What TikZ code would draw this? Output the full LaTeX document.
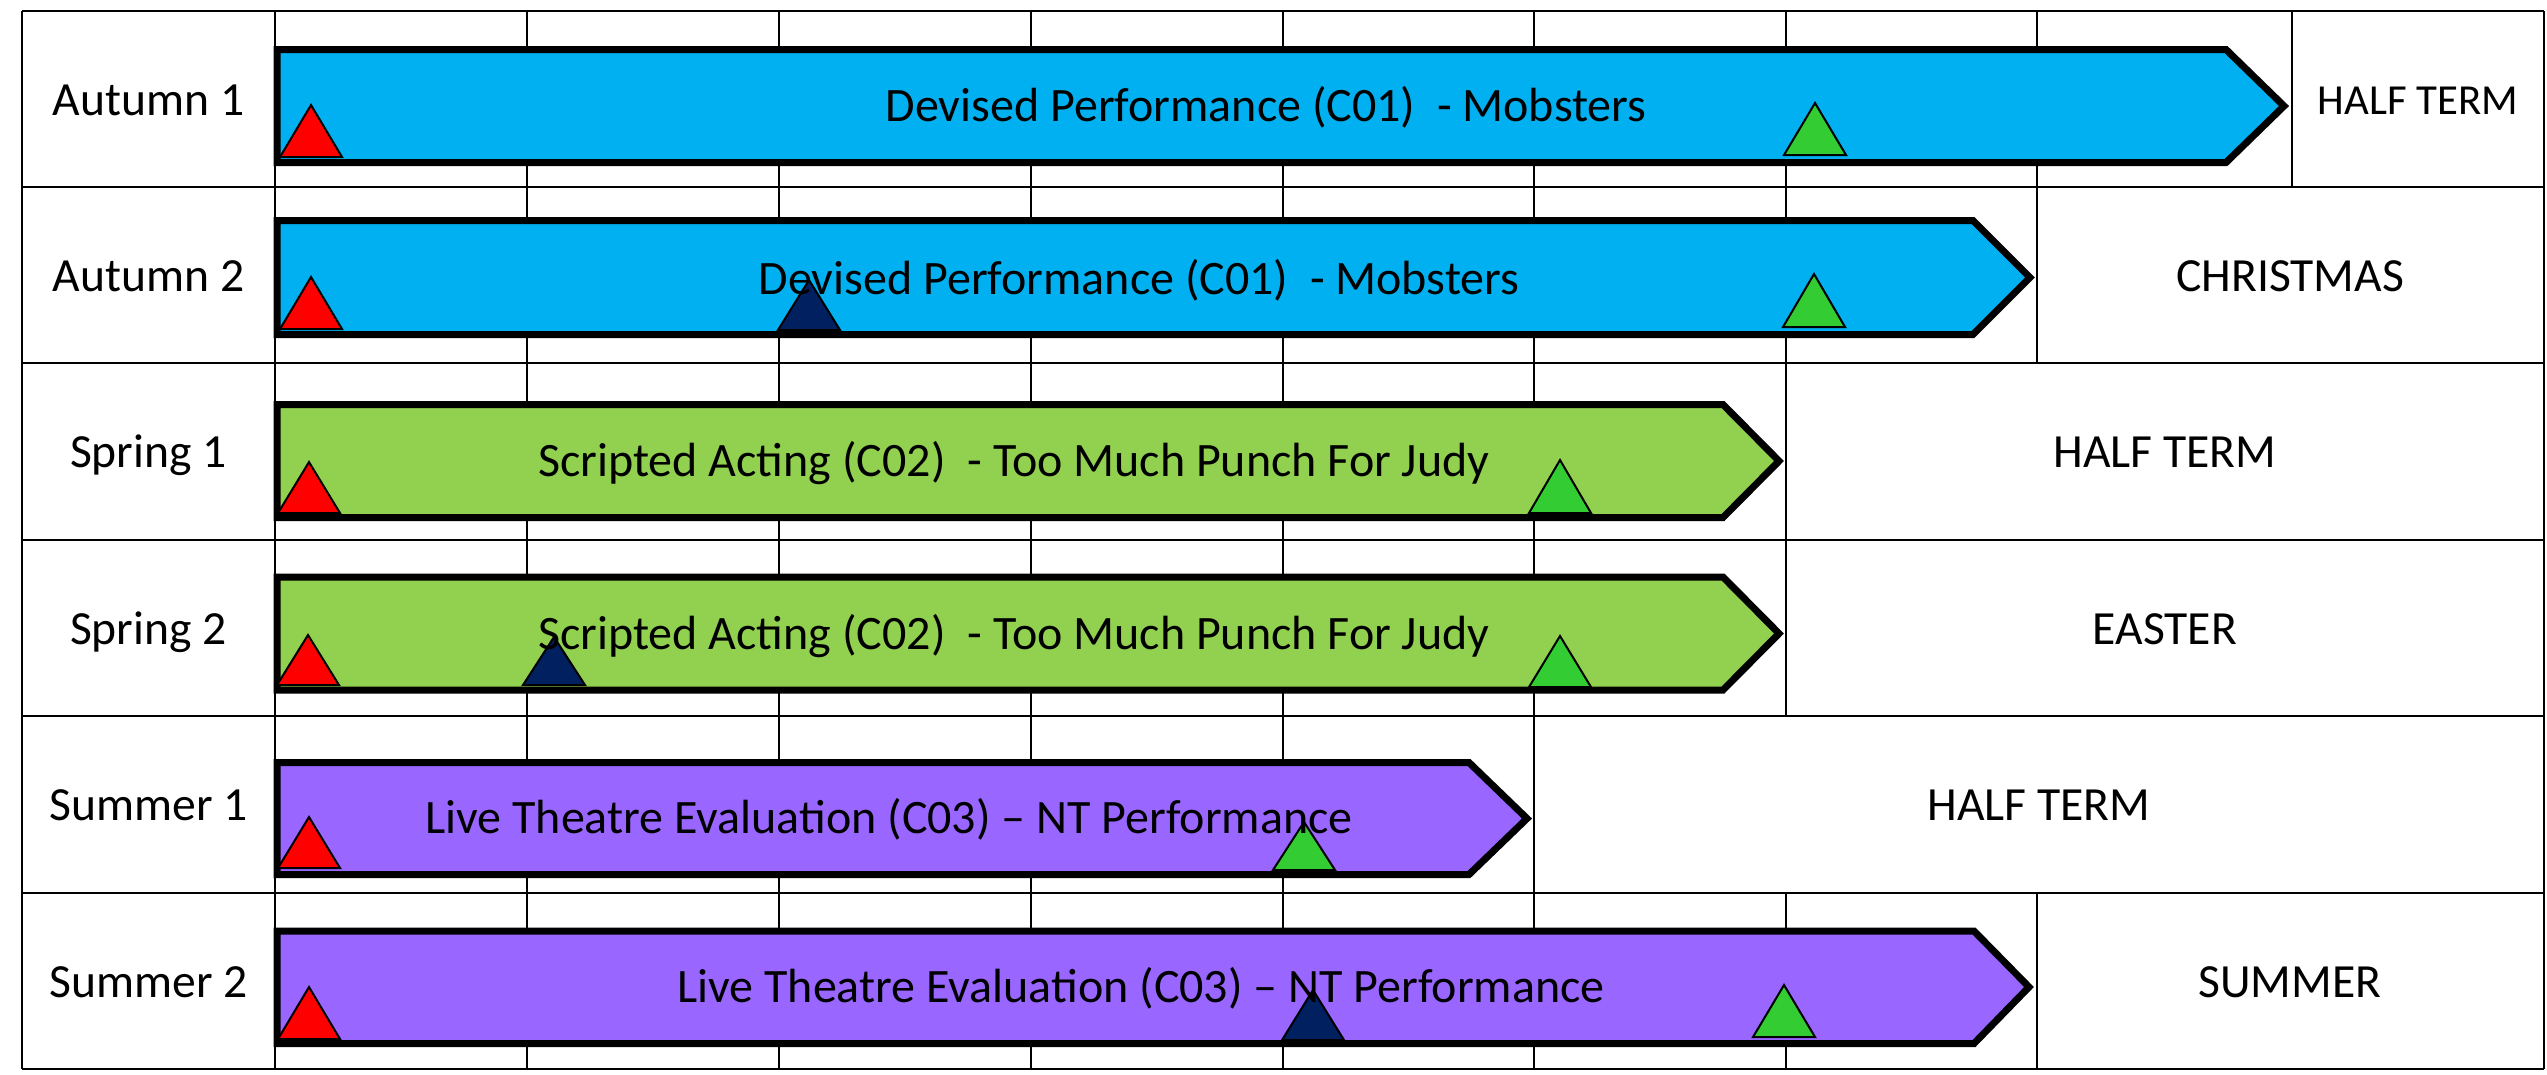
\documentclass[tikz,border=0pt]{standalone}
\usepackage{fontspec}
\setmainfont{Carlito}
\definecolor{barblue}{HTML}{00B0F0}
\definecolor{bargreen}{HTML}{92D050}
\definecolor{barpurple}{HTML}{9966FF}
\definecolor{trired}{HTML}{FF0000}
\definecolor{trigreen}{HTML}{33CC33}
\definecolor{trinavy}{HTML}{002060}
\newcommand{\mytri}[4]{\draw[tri,fill=#1] (#2,#4) -- (#2+31,#3) -- (#2+62,#4) -- cycle;}
\begin{document}
\begin{tikzpicture}[x=0.25pt,y=-0.25pt,
  gridline/.style={line width=0.6pt, draw=black},
  barshape/.style={draw=black, line width=1.75pt, line join=miter, miter limit=10},
  tri/.style={draw=black, line width=0.5pt, line join=miter},
  lbl/.style={font=\fontsize{11.9}{14}\selectfont, inner sep=0pt, anchor=center, text height=7.6pt, text depth=0pt},
  bartext/.style={font=\fontsize{12}{14}\selectfont, inner sep=0pt, anchor=center, text height=7.7pt, text depth=0pt},
  smalllbl/.style={font=\fontsize{10.7}{13}\selectfont, inner sep=0pt, anchor=center, text height=6.9pt, text depth=0pt},
]
\useasboundingbox (0,0) rectangle (2547,1074);
\fill[white] (0,0) rectangle (2547,1074);

% horizontal grid lines
\foreach \yy in {11,187,363,540,716,893,1069}
  \draw[gridline] (22,\yy) -- (2544,\yy);
% full-height vertical lines
\foreach \xx in {22,275,2544}
  \draw[gridline] (\xx,11) -- (\xx,1069);
% per-row week lines
\foreach \xx in {527,779,1031,1283,1534,1786,2037,2292}
  \draw[gridline] (\xx,11) -- (\xx,187);
\foreach \xx in {527,779,1031,1283,1534,1786,2037}
  \draw[gridline] (\xx,187) -- (\xx,363);
\foreach \xx in {527,779,1031,1283,1534,1786}
  \draw[gridline] (\xx,363) -- (\xx,716);
\foreach \xx in {527,779,1031,1283,1534}
  \draw[gridline] (\xx,716) -- (\xx,893);
\foreach \xx in {527,779,1031,1283,1534,1786,2037}
  \draw[gridline] (\xx,893) -- (\xx,1069);

% bars
\filldraw[barshape, fill=barblue] (277,49.5) -- (2226,49.5) -- (2284,106) -- (2226,162.5) -- (277,162.5) -- cycle;
\filldraw[barshape, fill=barblue] (277,220.5) -- (1973,220.5) -- (2030,277.5) -- (1973,334.5) -- (277,334.5) -- cycle;
\filldraw[barshape, fill=bargreen] (277,404.5) -- (1723,404.5) -- (1779,461) -- (1723,517.5) -- (277,517.5) -- cycle;
\filldraw[barshape, fill=bargreen] (277,577) -- (1723,577) -- (1779,633.5) -- (1723,690) -- (277,690) -- cycle;
\filldraw[barshape, fill=barpurple] (277,762.5) -- (1469,762.5) -- (1527,818.5) -- (1469,874.5) -- (277,874.5) -- cycle;
\filldraw[barshape, fill=barpurple] (277,931) -- (1974,931) -- (2029,987) -- (1974,1043.5) -- (277,1043.5) -- cycle;

% triangles
\mytri{trired}{280}{105}{157}
\mytri{trigreen}{1784}{103}{155}
\mytri{trired}{280}{277}{329}
\mytri{trinavy}{778}{280}{330}
\mytri{trigreen}{1783}{274}{327}
\mytri{trired}{278}{462}{513}
\mytri{trigreen}{1529}{460}{513}
\mytri{trired}{277}{635}{685}
\mytri{trinavy}{523}{637}{685}
\mytri{trigreen}{1529}{636}{687}
\mytri{trired}{278}{817}{868}
\mytri{trigreen}{1273}{822}{870}
\mytri{trired}{278}{987}{1039}
\mytri{trinavy}{1282}{990}{1040}
\mytri{trigreen}{1753}{985}{1037}

% row labels
\node[lbl] (a1) at (148.5,100) {Autumn 1};
\node[lbl] (a2) at (148.5,276) {Autumn 2};
\node[lbl] (s1) at (148.5,452) {Spring 1};
\node[lbl] (s2) at (148.5,629) {Spring 2};
\node[lbl] (u1) at (148.5,805) {Summer 1};
\node[lbl] (u2) at (148.5,982) {Summer 2};

% bar texts
\node[bartext] (t1) at (1266,106) {Devised Performance (C01) \ - Mobsters};
\node[bartext] (t2) at (1139,279) {Devised Performance (C01) \ - Mobsters};
\node[bartext] (t3) at (1014,461) {Scripted Acting (C02) \ - Too Much Punch For Judy};
\node[bartext] (t4) at (1014,634) {Scripted Acting (C02) \ - Too Much Punch For Judy};
\node[bartext] (t5) at (889,818) {Live Theatre Evaluation (C03) – NT Performance};
\node[bartext] (t6) at (1141,987) {Live Theatre Evaluation (C03) – NT Performance};

% holiday labels
\node[smalllbl] (h1) at (2418,101) {HALF TERM};
\node[lbl] (h2) at (2290,276) {CHRISTMAS};
\node[lbl] (h3) at (2165,452) {HALF TERM};
\node[lbl] (h4) at (2165,629) {EASTER};
\node[lbl] (h5) at (2039,805) {HALF TERM};
\node[lbl] (h6) at (2290,982) {SUMMER};
\end{tikzpicture}
\end{document}
